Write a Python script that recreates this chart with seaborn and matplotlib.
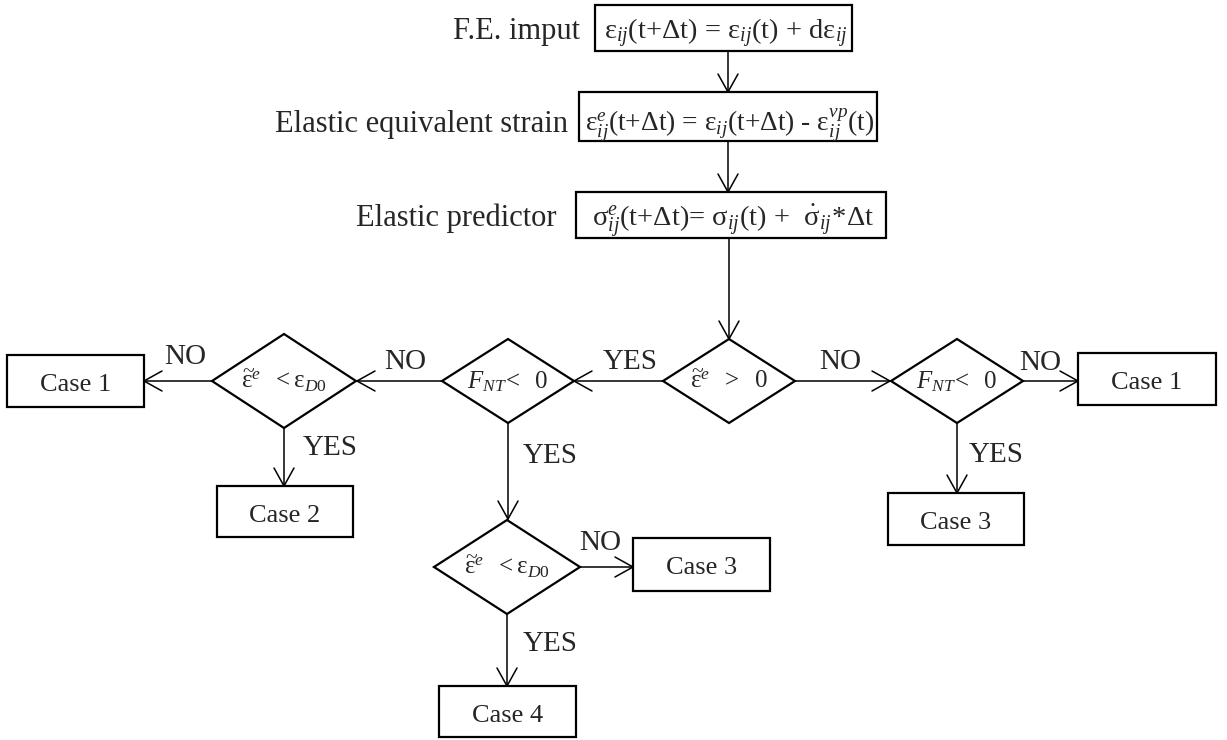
import pandas as pd
import matplotlib
matplotlib.use("Agg")
import matplotlib.pyplot as plt
import seaborn as sns
from matplotlib.patches import Rectangle, Polygon

sns.set_theme(style="white")
plt.rcParams['font.family'] = ['Liberation Serif', 'DejaVu Serif']
plt.rcParams['mathtext.fontset'] = 'custom'
plt.rcParams['mathtext.rm'] = 'Liberation Serif'
plt.rcParams['mathtext.it'] = 'Liberation Serif:italic'
plt.rcParams['mathtext.bf'] = 'Liberation Serif:bold'

## texts of the chart

step_labels = ["F.E. imput", "Elastic equivalent strain", "Elastic predictor"]
step_formulas = [
    r"$\mathrm{ε}_{ij}\text{(t+Δt) = ε}_{ij}\text{(t) + dε}_{ij}$",
    r"$\mathrm{ε}_{ij}^{e}\text{(t+Δt) = ε}_{ij}\text{(t+Δt) - ε}_{ij}^{vp}\text{(t)}$",
    r"$\mathrm{σ}_{ij}^{e}\text{(t+Δt)= σ}_{ij}\text{(t) +  }\dot{\mathrm{σ}}_{ij}\!*\!\text{Δt}$",
]
cond_eps_pos = r"$\widetilde{\mathrm{ε}}^{e}\ \ >\ \ 0$"
cond_eps_lim = r"$\widetilde{\mathrm{ε}}^{e}\ \ <\mathrm{ε}_{D\mathrm{0}}$"
cond_fnt = r"$F_{NT}\!<\ \ 0$"
case_names = ["Case 1", "Case 2", "Case 1", "Case 3", "Case 3", "Case 4"]

## layout (pixels)

step_boxes = [(595, 852, 5, 51), (579, 877, 92, 141), (576, 886, 192, 238)]
step_base = [39, 132, 226]
step_fs = [20.5, 19.8, 20.5]
label_right = [580, 568, 556]

case_boxes = [(7, 144, 355, 407), (217, 353, 486, 537), (1078, 1216, 353, 405),
              (888, 1024, 493, 545), (633, 770, 538, 591), (439, 576, 686, 737)]

# cx, cy, half width, half height, text
diamonds = [(729, 381, 66, 42, cond_eps_pos),
            (508, 381, 66, 42, cond_fnt),
            (284, 381, 72, 47, cond_eps_lim),
            (957, 381, 66, 42, cond_fnt),
            (507, 567, 73, 47, cond_eps_lim)]

# x0, y0, x1, y1, label, label x, label baseline
edges = [(728, 51, 728, 92, None, 0, 0),
         (728, 141, 728, 192, None, 0, 0),
         (729, 238, 729, 339, None, 0, 0),
         (663, 381, 574, 381, "YES", 630, 369),
         (442, 381, 357, 381, "NO", 405, 369),
         (212, 381, 144, 381, "NO", 185, 364),
         (284, 428, 284, 486, "YES", 330, 455),
         (508, 423, 508, 519, "YES", 550, 463),
         (795, 381, 890, 381, "NO", 840, 369),
         (1023, 381, 1078, 381, "NO", 1040, 370),
         (957, 423, 957, 493, "YES", 996, 462),
         (580, 567, 633, 567, "NO", 600, 550),
         (507, 614, 507, 686, "YES", 550, 651)]

fig = plt.figure(figsize=(12.27, 7.40), dpi=100)
ax = fig.add_axes([0, 0, 1, 1])

# connector lines + open arrow heads as line segments
rows = []
seg = 0
for x0, y0, x1, y1, lab, lx, ly in edges:
    rows += [(seg, x0, y0), (seg, x1, y1)]
    seg += 1
    dx, dy = x1 - x0, y1 - y0
    d = (dx ** 2 + dy ** 2) ** 0.5
    ux, uy = dx / d, dy / d
    for s in (1, -1):
        rows += [(seg, x1, y1), (seg, x1 - 18 * ux + s * 10 * uy, y1 - 18 * uy - s * 10 * ux)]
        seg += 1
    if lab:
        ax.text(lx, ly, lab, fontsize=21, ha="center", va="baseline")
lines = pd.DataFrame(rows, columns=["seg", "x", "y"])
sns.lineplot(data=lines, x="x", y="y", units="seg", estimator=None, sort=False,
             color="black", lw=1.1, legend=False, ax=ax)

for (x0, x1, y0, y1), lab, form, base, fs, xr in zip(step_boxes, step_labels, step_formulas,
                                                     step_base, step_fs, label_right):
    ax.add_patch(Rectangle((x0, y0), x1 - x0, y1 - y0, fill=False, ec="black", lw=1.6))
    ax.text((x0 + x1) / 2 + 2, base, form, fontsize=fs, ha="center", va="baseline")
    ax.text(xr, base, lab, fontsize=22, ha="right", va="baseline")

for (x0, x1, y0, y1), name in zip(case_boxes, case_names):
    ax.add_patch(Rectangle((x0, y0), x1 - x0, y1 - y0, fill=False, ec="black", lw=1.6))
    ax.text((x0 + x1) / 2, (y0 + y1) / 2 + 10, name, fontsize=19, ha="center", va="baseline")

for cx, cy, hw, hh, txt in diamonds:
    ax.add_patch(Polygon([(cx - hw, cy), (cx, cy - hh), (cx + hw, cy), (cx, cy + hh)],
                         closed=True, fill=False, ec="black", lw=1.6))
    ax.text(cx, cy + 7, txt, fontsize=18, ha="center", va="baseline")

ax.set_xlim(0, 1227)
ax.set_ylim(740, 0)
ax.axis("off")
fig.savefig("out.png", dpi=100)
